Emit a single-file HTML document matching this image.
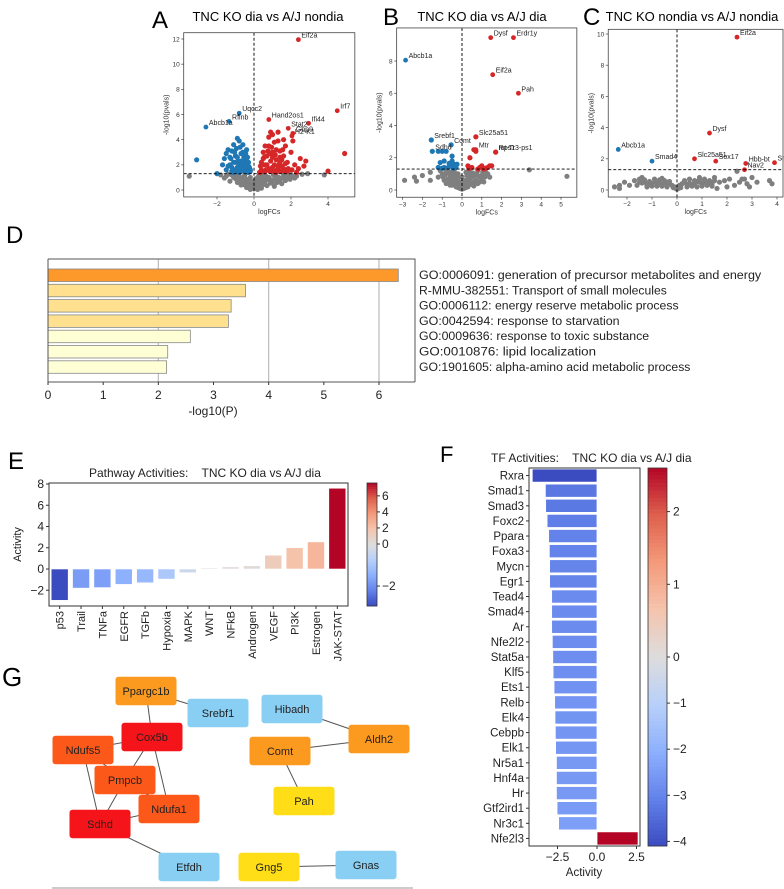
<!DOCTYPE html>
<html><head><meta charset="utf-8"><style>
html,body{margin:0;padding:0;background:#fff;}
svg{display:block;font-family:"Liberation Sans",sans-serif;}
</style></head><body>
<svg id="fig" width="784" height="889" viewBox="0 0 784 889" xmlns="http://www.w3.org/2000/svg">
<rect x="0" y="0" width="784" height="889" fill="#fff"/>
</svg>
<script>
// ---------- Panel A data ----------
const aLabX=[2.4,4.5,-2.6,-1.35,-0.8,0.8,1.85,2.95,2.1,2.05];
const aLabY=[11.95,6.3,5.0,5.45,6.1,5.6,4.9,5.3,4.5,4.3];
const aLabN=["Eif2a","Irf7","Abcb1a","Rflnb","Uqcc2","Hand2os1","Stat2","Ifi44","Gbp9","H2-K1"];
const aLabC=["r","r","b","b","b","r","r","r","r","r"];
const aGrayX=[-1.8,-1.5,-1.2,-1.0,-0.8,-0.6,-0.5,-0.3,-0.2,0,0,-0.1,0.1,0.2,0.3,0.5,0.6,0.8,1.0,1.2,1.4,1.6,1.8,2.0,2.3,2.6,-0.7,0.7,-0.4,0.4,1.1,-1.3,1.5,-3.5,3.8,2.9,-0.9,0.9,-0.2,0.2,1.3,-1.1,0.0,0.5,-0.5,
 -1.6,-1.4,-1.1,-0.9,-0.7,-0.45,-0.25,-0.05,0.15,0.35,0.55,0.75,0.95,1.15,1.35,1.55,1.75,1.95,2.15,-0.6,-0.35,-0.15,0.1,0.3,0.6,0.85,1.05,1.25,-0.8,-0.5,0.45,0.65,1.7,2.2,-1.0,0.25];
const aGrayY=[1.2,1.1,1.2,0.9,1.1,0.8,1.2,0.6,1.0,0.1,0.4,0.3,0.2,0.5,0.9,1.2,0.7,1.0,0.6,1.1,0.8,1.2,1.0,1.2,1.1,1.25,0.4,0.35,0.2,0.15,0.3,0.7,0.5,1.1,1.2,1.3,0.6,0.55,0.05,0.05,0.9,1.0,0.7,0.9,0.6,
 0.95,1.25,1.05,1.2,0.75,0.9,0.85,0.55,0.75,0.65,0.45,0.85,0.8,0.9,1.0,0.95,1.15,0.85,1.05,1.0,0.45,0.35,0.9,0.4,1.0,0.75,1.2,0.6,0.9,0.4,1.05,1.1,0.75,0.95,1.25,1.1];
const aBlueX=[-1.6,-1.4,-1.3,-1.1,-1.0,-0.9,-0.8,-0.7,-0.6,-0.5,-0.4,-0.3,-0.2,-1.2,-0.8,-1.5,-0.6,-0.9,-0.4,-1.7,-0.3,-0.7,-3.1,-2.0,-1.0,-0.5,
 -1.5,-1.3,-1.2,-1.1,-1.0,-0.9,-0.8,-0.7,-0.6,-0.5,-0.4,-0.3,-0.25,-1.4,-1.2,-0.95,-0.75,-0.55,-0.45,-0.35,-0.65,-0.85,-1.05,-1.25,-0.2,-0.5,-0.7,-0.9,-1.1,-0.4,-0.6,-0.8];
const aBlueY=[2.5,3.2,2.0,3.6,2.7,1.8,3.9,2.3,3.0,1.6,2.5,1.9,1.5,1.5,1.4,1.6,3.6,4.1,3.2,2.0,1.4,1.7,2.4,1.3,2.2,2.1,
 2.9,2.6,3.1,2.2,1.6,2.6,2.0,2.9,1.9,2.4,1.7,2.2,1.8,1.9,1.8,3.3,3.4,2.6,2.9,2.6,2.2,2.3,3.0,2.5,1.6,1.5,1.5,1.5,1.4,1.45,1.6,1.7];
const aRedX=[0.4,0.5,0.6,0.7,0.8,0.9,1.0,1.1,1.2,1.3,1.4,1.5,1.6,1.7,1.8,1.9,2.0,2.1,2.2,2.4,2.5,2.7,0.3,0.6,1.0,1.2,2.8,2.3,0.9,1.6,4.9,4.0,0.5,1.4,
 0.4,0.5,0.6,0.7,0.8,0.9,1.0,1.1,1.2,1.3,1.4,1.5,1.6,1.7,1.8,0.45,0.65,0.85,1.05,1.25,1.45,1.65,1.85,2.05,0.35,0.55,0.75,0.95,1.15,1.35,1.55,0.8,1.0,1.3];
const aRedY=[1.6,2.5,3.5,2.0,4.2,2.9,1.8,3.8,2.4,4.6,3.1,1.9,2.7,3.5,2.2,1.6,3.0,3.9,2.0,1.7,2.5,1.9,1.4,1.5,4.4,1.4,2.3,1.4,4.6,4.0,2.9,1.5,2.0,2.2,
 2.2,3.0,2.0,2.7,1.7,2.3,2.6,2.0,3.2,1.8,2.6,2.4,1.7,2.1,1.5,1.5,1.6,1.5,1.5,1.6,1.5,1.5,1.7,1.6,1.9,2.6,3.1,3.4,2.8,2.0,3.2,3.5,3.0,3.9];
// ---------- Panel B data ----------
const bLabX=[1.45,2.6,-2.85,1.55,2.85,0.7,1.7,-1.55,-0.55,-1.5,0.7,1.7];
const bLabY=[9.45,9.45,8.05,7.15,6.0,3.3,2.35,3.1,2.8,2.4,2.5,2.35];
const bLabN=["Dysf","Erdr1y","Abcb1a","Eif2a","Pah","Slc25a51","Rps13-ps1","Srebf1","Comt","Sdhd","Mtr","mt-Tr"];
const bLabC=["r","r","b","r","r","r","r","b","b","b","r","r"];
const bGrayX=[-1.0,-0.8,-0.6,-0.4,-0.2,0,0.2,0.4,0.6,0.8,1.0,1.2,-0.9,-0.7,-0.5,-0.3,-0.1,0.1,0.3,0.5,0.7,0.9,1.1,-0.6,-0.3,0,0.3,0.6,-0.4,0.4,-0.2,0.2,0,-2.9,-2.4,-2.3,-2.0,-1.6,-1.6,3.4,5.3,-1.2,1.4,
 -1.1,-0.95,-0.85,-0.75,-0.65,-0.55,-0.45,-0.35,-0.25,-0.15,0.15,0.25,0.35,0.45,0.55,0.65,0.75,0.85,0.95,1.05,1.15,1.3,-0.8,-0.6,-0.4,-0.2,0.2,0.4,0.6,0.8,-0.5,-0.3,0.3,0.5,-0.1,0.1];
const bGrayY=[1.0,1.2,1.1,1.2,1.0,0.5,1.1,1.2,1.0,1.2,0.9,1.1,0.6,0.7,0.6,0.8,0.3,0.3,0.7,0.8,0.6,0.5,0.5,0.3,0.2,0.05,0.2,0.25,0.45,0.45,0.15,0.15,0.8,0.6,0.8,0.55,0.9,1.1,0.6,1.25,0.85,0.8,0.8,
 1.2,0.8,0.95,1.05,0.45,0.85,0.95,1.05,0.6,0.5,0.55,0.9,1.05,0.95,1.05,0.9,1.0,0.85,0.7,1.1,0.8,1.0,0.4,0.95,0.7,0.75,0.6,0.7,0.5,0.4,0.3,0.35,0.4,0.35,0.1,0.1];
const bBlueX=[-1.5,-1.2,-1.0,-0.8,-0.55,-0.5,-0.4,-0.6,-0.9,-1.1,-1.2,-0.7,-0.3,-0.5,-1.55,-0.35,-0.9,-0.45,-0.65,-0.25,-1.0];
const bBlueY=[2.4,2.4,2.4,2.4,2.8,2.1,1.6,1.5,1.8,1.7,1.4,1.4,1.4,1.8,3.1,1.5,1.4,1.35,1.65,1.6,1.35];
const bRedX=[0.7,0.6,0.7,0.4,1.7,0.3,0.5,0.9,1.0,1.3,1.4,1.5,1.2,0.8,0.35,1.1];
const bRedY=[3.3,2.5,2.4,2.0,2.35,1.5,1.4,1.4,1.5,1.4,1.5,1.5,1.35,1.3,1.35,1.3];
// ---------- Panel C data ----------
const cLabX=[2.4,1.3,-2.35,-1.0,0.7,1.55,2.75,3.9,2.7];
const cLabY=[9.8,3.65,2.6,1.85,2.0,1.85,1.7,1.75,1.3];
const cLabN=["Eif2a","Dysf","Abcb1a","Smad4","Slc25a51","Sox17","Hbb-bt","Snca","Nav2"];
const cLabC=["r","r","b","b","r","r","r","r","r"];
const cGrayX=[-2.5,-2.3,-2.1,-1.9,-1.7,-1.5,-1.3,-1.1,-0.9,-0.7,-0.5,-0.3,-0.1,0.1,0.3,0.5,0.7,0.9,1.1,1.3,1.5,1.7,1.9,2.1,2.3,2.5,-1.6,-1.2,-0.8,-0.4,0,0.4,0.8,1.2,-1.4,-1.0,-0.6,-0.2,0.2,0.6,1.0,1.4,2.0,2.6,2.8,3.0,3.2,3.7,3.8,-2.3,-1.4,-0.6,0.9,1.6,2.4,2.7,2.9,-0.05,0.05,
 -1.5,-1.3,-1.1,-0.9,-0.7,-0.5,-0.3,0.3,0.5,0.7,0.9,1.1,1.3,1.5,-1.2,-0.8,-0.4,0.4,0.8,1.2,-1.0,-0.6,0.6,1.0,1.4,-0.15,0.15];
const cGrayY=[0.2,0.3,0.5,0.3,0.6,0.7,0.5,0.4,0.7,0.5,0.6,0.4,0.2,0.3,0.5,0.7,0.6,0.5,0.7,0.6,0.8,0.5,0.6,0.7,0.3,0.5,0.3,0.2,0.25,0.2,0.05,0.2,0.2,0.3,0.45,0.4,0.35,0.3,0.4,0.35,0.4,0.4,0.2,0.7,0.4,0.8,0.5,0.6,0.4,0.1,0.8,0.75,0.8,0.1,1.2,0.7,0.2,0.1,0.1,
 0.5,0.65,0.55,0.5,0.65,0.45,0.55,0.6,0.45,0.4,0.65,0.55,0.45,0.6,0.3,0.45,0.5,0.35,0.55,0.45,0.25,0.25,0.25,0.25,0.25,0.15,0.15];
const cBlueX=[];const cBlueY=[];
const cRedX=[];const cRedY=[];
// ---------- Panel D data ----------
const dTerms=["GO:0006091: generation of precursor metabolites and energy","R-MMU-382551: Transport of small molecules","GO:0006112: energy reserve metabolic process","GO:0042594: response to starvation","GO:0009636: response to toxic substance","GO:0010876: lipid localization","GO:1901605: alpha-amino acid metabolic process"];
const dVals=[6.35,3.58,3.32,3.27,2.58,2.17,2.15];
const dTicks=[0,1,2,3,4,5,6];
// ---------- Panel E data ----------
const eCats=["p53","Trail","TNFa","EGFR","TGFb","Hypoxia","MAPK","WNT","NFkB","Androgen","VEGF","PI3K","Estrogen","JAK-STAT"];
const eVals=[-2.95,-1.8,-1.75,-1.45,-1.3,-0.95,-0.35,0.1,0.2,0.3,1.3,2.0,2.55,7.6];
const eTicks=[-2,0,2,4,6,8];
const eCbTicks=[-2,0,2,4,6];
// ---------- Panel F data ----------
const fCats=["Rxra","Smad1","Smad3","Foxc2","Ppara","Foxa3","Mycn","Egr1","Tead4","Smad4","Ar","Nfe2l2","Stat5a","Klf5","Ets1","Relb","Elk4","Cebpb","Elk1","Nr5a1","Hnf4a","Hr","Gtf2ird1","Nr3c1","Nfe2l3"];
const fVals=[-4.1,-3.27,-3.25,-3.16,-3.06,-3.02,-3.0,-3.0,-2.87,-2.87,-2.87,-2.83,-2.8,-2.78,-2.72,-2.68,-2.66,-2.64,-2.62,-2.57,-2.57,-2.57,-2.53,-2.43,2.6];
const fTicks=[-2.5,0,2.5];
const fCbTicks=[-4,-3,-2,-1,0,1,2];
// ---------- Panel G data ----------
const gNodes=["Ppargc1b","Srebf1","Hibadh","Aldh2","Cox5b","Ndufs5","Comt","Pmpcb","Ndufa1","Pah","Sdhd","Etfdh","Gng5","Gnas"];
const gNodeX=[146,218,292,379,152,83,280,125,169,304,100,189,269,366];
const gNodeY=[691,713,709,739,737,750,751,780,809,801,824,867,867,865];
const gNodeCol=["#fc9a1f","#89cff3","#89cff3","#fc9a1f","#f51419","#fb581a","#fc9a1f","#fb581a","#fb581a","#ffdd17","#f51419","#89cff3","#ffdd17","#89cff3"];
const gEdgeA=["Ppargc1b","Ppargc1b","Cox5b","Cox5b","Cox5b","Ndufs5","Ndufs5","Pmpcb","Pmpcb","Sdhd","Sdhd","Hibadh","Comt","Comt","Gng5"];
const gEdgeB=["Srebf1","Cox5b","Ndufs5","Pmpcb","Ndufa1","Sdhd","Ndufa1","Sdhd","Ndufa1","Ndufa1","Etfdh","Aldh2","Aldh2","Pah","Gnas"];

const NS="http://www.w3.org/2000/svg";
const svg=document.getElementById('fig');
function mk(tag,attrs,parent){const e=document.createElementNS(NS,tag);for(const k in attrs)e.setAttribute(k,attrs[k]);(parent||svg).appendChild(e);return e;}
function txt(s,attrs,parent){const e=mk('text',attrs,parent);e.textContent=s;return e;}
function lin(d0,d1,r0,r1){return v=>r0+(v-d0)*(r1-r0)/(d1-d0);}
const CW=[[59,76,192],[98,130,234],[141,176,254],[184,208,249],[221,221,221],[245,196,173],[244,154,123],[222,96,77],[180,4,38]];
function coolwarm(t){t=Math.max(0,Math.min(1,t));const p=t*8,i=Math.min(7,Math.floor(p)),f=p-i;const a=CW[i],b=CW[i+1];return 'rgb('+a.map((v,k)=>Math.round(v+(b[k]-v)*f)).join(',')+')';}
function twoSlope(v,vmin,vmax){return v<0?0.5*(1-v/vmin):0.5+0.5*v/vmax;}

// ---------- Volcano ----------
function volcano(p){
  const g=mk('g',{});
  
  
  const X=lin(p.xd[0],p.xd[1],p.px[0],p.px[1]);
  const Y=lin(p.yd[0],p.yd[1],p.py[0],p.py[1]);
  const L=X(p.xmin),R=X(p.xmax),T=Y(p.ymax),B=Y(p.ymin);
  const pl=txt(p.letter,{x:p.lx,y:p.ly,'font-size':24,fill:'#000'},g);
  
  const tt=txt(p.title,{x:p.tx,y:21,'font-size':13,'text-anchor':'middle',fill:'#000'},g);
  
  const dots=mk('g',{},g);
  
  const draw=(xs,ys,c)=>{for(let i=0;i<xs.length;i++){const d=mk('circle',{cx:X(xs[i]),cy:Y(ys[i]),r:2.6,fill:c},dots);}};
  draw(p.gx,p.gy,'#7f7f7f');draw(p.bx,p.by,'#1f77b4');draw(p.rx,p.ry,'#d62728');
  for(let i=0;i<p.ln.length;i++){
    const c=p.lc[i]==='r'?'#d62728':'#1f77b4';
    const d=mk('circle',{cx:X(p.lx2[i]),cy:Y(p.ly2[i]),r:2.4,fill:c},dots);
    
    const t=txt(p.ln[i],{x:X(p.lx2[i])+3,y:Y(p.ly2[i])-2,'font-size':7,fill:'#222'},g);
    
  }
  mk('line',{x1:X(0),x2:X(0),y1:T,y2:B,stroke:'#000','stroke-width':0.9,'stroke-dasharray':'3,2'},g);
  mk('line',{x1:L,x2:R,y1:Y(1.3),y2:Y(1.3),stroke:'#000','stroke-width':0.9,'stroke-dasharray':'3,2'},g);
  const fr=mk('rect',{x:L,y:T,width:R-L,height:B-T,fill:'none',stroke:'#444','stroke-width':0.8},g);
  
  p.xt.forEach(v=>{mk('line',{x1:X(v),x2:X(v),y1:B,y2:B+2.5,stroke:'#444','stroke-width':0.7},g);
    const t=txt(String(v).replace('-','\u2212'),{x:X(v),y:B+9,'font-size':6.5,'text-anchor':'middle',fill:'#333'},g);
    });
  p.yt.forEach(v=>{mk('line',{x1:L,x2:L-2.5,y1:Y(v),y2:Y(v),stroke:'#444','stroke-width':0.7},g);
    const t=txt(String(v),{x:L-4,y:Y(v)+2.3,'font-size':6.5,'text-anchor':'end',fill:'#333'},g);
    });
  const xl=txt('logFCs',{x:(L+R)/2,y:B+17,'font-size':7,'text-anchor':'middle',fill:'#333'},g);
  
  const yl=txt('-log10(pvals)',{x:0,y:0,'font-size':7,'text-anchor':'middle',fill:'#333',transform:`translate(${L-15},${(T+B)/2}) rotate(-90)`},g);
  
}
volcano({name:'volcano-a',letter:'A',lx:152,ly:28,title:'TNC KO dia vs A/J nondia',tx:268,
  xd:[0,2],px:[254,291],yd:[0,12],py:[190,39],xmin:-3.8,xmax:5.45,ymin:-0.55,ymax:12.5,
  xt:[-2,0,2,4],yt:[0,2,4,6,8,10,12],gx:aGrayX,gy:aGrayY,bx:aBlueX,by:aBlueY,rx:aRedX,ry:aRedY,
  lx2:aLabX,ly2:aLabY,ln:aLabN,lc:aLabC});
volcano({name:'volcano-b',letter:'B',lx:383,ly:25,title:'TNC KO dia vs A/J dia',tx:482,
  xd:[0,5],px:[462,561],yd:[0,8],py:[190,61],xmin:-3.3,xmax:5.8,ymin:-0.45,ymax:10.05,
  xt:[-3,-2,-1,0,1,2,3,4,5],yt:[0,2,4,6,8],gx:bGrayX,gy:bGrayY,bx:bBlueX,by:bBlueY,rx:bRedX,ry:bRedY,
  lx2:bLabX,ly2:bLabY,ln:bLabN,lc:bLabC});
volcano({name:'volcano-c',letter:'C',lx:583,ly:25,title:'TNC KO nondia vs A/J nondia',tx:692,
  xd:[0,4],px:[677,777],yd:[0,10],py:[190,34],xmin:-2.75,xmax:4.24,ymin:-0.45,ymax:10.3,
  xt:[-2,-1,0,1,2,3,4],yt:[0,2,4,6,8,10],gx:cGrayX,gy:cGrayY,bx:cBlueX,by:cBlueY,rx:cRedX,ry:cRedY,
  lx2:cLabX,ly2:cLabY,ln:cLabN,lc:cLabC});

// ---------- Panel D ----------
(function(){
  const g=mk('g',{});
  const l=txt('D',{x:6,y:243,'font-size':24,fill:'#000'},g);
  const X=lin(0,6,48,379);const L=48,R=415,T=259,B=382;
  dTicks.forEach(v=>{if(v>0&&v%2===0)mk('line',{x1:X(v),x2:X(v),y1:T,y2:B,stroke:'#bbb','stroke-width':1.2},g);});
  dVals.forEach((v,i)=>{const y=269+i*15.3;
    const col=i===0?'#fd992b':(i<4?'#fee08e':'#ffffd5');
    const r=mk('rect',{x:L,y:y,width:X(v)-L,height:12.5,fill:col,stroke:'#888','stroke-width':0.8},g);
    
    const t=txt(dTerms[i],{x:419,y:y+10,'font-size':11.5,fill:'#222',textLength:dTerms[i].length*5.9,lengthAdjust:'spacingAndGlyphs'},g);
    });
  mk('path',{d:`M${L} ${T}H${R}V${B}M${L} ${T}V${B}H${R}`,fill:'none',stroke:'#555','stroke-width':1},g);
  dTicks.forEach(v=>{mk('line',{x1:X(v),x2:X(v),y1:B,y2:B+3,stroke:'#333'},g);
    const t=txt(String(v),{x:X(v),y:399,'font-size':12,'text-anchor':'middle',fill:'#222'},g);
    });
  const xl=txt('-log10(P)',{x:213,y:415,'font-size':12,'text-anchor':'middle',fill:'#222'},g);
  
})();

// ---------- Panel E ----------
(function(){
  const g=mk('g',{});
  const l=txt('E',{x:8,y:469,'font-size':24,fill:'#000'},g);
  const tt=txt('Pathway Activities:\u00a0\u00a0\u00a0 TNC KO dia vs A/J dia',{x:89,y:477,'font-size':12,fill:'#222'},g);
  
  const L=49,R=348,T=483,B=606;const Y=lin(0,8,569,484);
  const vmin=Math.min(...eVals),vmax=Math.max(...eVals);
  const step=(R-L)/eCats.length;
  eVals.forEach((v,i)=>{const cx=L+step*(i+0.5);
    const r=mk('rect',{x:cx-8.5,y:Math.min(Y(v),Y(0)),width:17,height:Math.abs(Y(v)-Y(0)),fill:coolwarm(twoSlope(v,vmin,vmax)),stroke:'#fff','stroke-width':0.6},g);
    
    mk('line',{x1:cx,x2:cx,y1:B,y2:B+3,stroke:'#333'},g);
    const t=txt(eCats[i],{x:0,y:0,'font-size':11,'text-anchor':'end',fill:'#222',transform:`translate(${cx+4},${B+5}) rotate(-90)`},g);
    });
  mk('rect',{x:L,y:T,width:R-L,height:B-T,fill:'none',stroke:'#333','stroke-width':1},g);
  eTicks.forEach(v=>{mk('line',{x1:L,x2:L-3,y1:Y(v),y2:Y(v),stroke:'#333'},g);
    const t=txt(String(v).replace('-','\u2212'),{x:L-5,y:Y(v)+4,'font-size':12,'text-anchor':'end',fill:'#222'},g);
    });
  const yl=txt('Activity',{x:0,y:0,'font-size':11,'text-anchor':'middle',fill:'#222',transform:`translate(21,${(T+B)/2}) rotate(-90)`},g);
  
  const cb=mk('g',{},g);
  const CX=367,CW2=10;const CY=v=>v>=0?T+(vmax-v)/vmax*(544-T):544+(v/vmin)*(B-544);
  for(let k=0;k<60;k++){const y0=T+(B-T)*k/60,y1=T+(B-T)*(k+1)/60;const t=1-(k+0.5)/60;
    mk('rect',{x:CX,y:y0,width:CW2,height:y1-y0+0.3,fill:coolwarm(t)},cb);}
  mk('rect',{x:CX,y:T,width:CW2,height:B-T,fill:'none',stroke:'#333','stroke-width':0.8},cb);
  eCbTicks.forEach(v=>{const y=CY(v);mk('line',{x1:CX+CW2,x2:CX+CW2+3,y1:y,y2:y,stroke:'#333'},cb);
    const t=txt(String(v).replace('-','\u2212'),{x:CX+CW2+5,y:y+4,'font-size':12,fill:'#222'},cb);
    });
})();

// ---------- Panel F ----------
(function(){
  const g=mk('g',{});
  const l=txt('F',{x:440,y:462,'font-size':22,fill:'#000'},g);
  const tt=txt('TF Activities:\u00a0\u00a0\u00a0 TNC KO dia vs A/J dia',{x:491,y:462,'font-size':12,fill:'#222'},g);
  
  const L=529,R=640,T=468,B=846;const X=lin(0,2.5,597,636.5);
  const vmin=Math.min(...fVals),vmax=Math.max(...fVals);
  const step=(B-T)/fCats.length;
  fVals.forEach((v,i)=>{const cy=T+step*(i+0.5);
    const r=mk('rect',{x:Math.min(X(v),X(0)),y:cy-6.6,width:Math.abs(X(v)-X(0)),height:13.2,fill:coolwarm(twoSlope(v,vmin,vmax)),stroke:'#fff','stroke-width':0.8},g);
    
    mk('line',{x1:L,x2:L-3,y1:cy,y2:cy,stroke:'#333'},g);
    const t=txt(fCats[i],{x:L-5,y:cy+4,'font-size':11.5,'text-anchor':'end',fill:'#222'},g);
    });
  mk('rect',{x:L,y:T,width:R-L,height:B-T,fill:'none',stroke:'#333','stroke-width':1},g);
  fTicks.forEach(v=>{mk('line',{x1:X(v),x2:X(v),y1:B,y2:B+3,stroke:'#333'},g);
    const t=txt(v.toFixed(1).replace('-','\u2212'),{x:X(v),y:861,'font-size':12,'text-anchor':'middle',fill:'#222'},g);
    });
  const xl=txt('Activity',{x:584,y:876,'font-size':11.5,'text-anchor':'middle',fill:'#222'},g);
  
  const cb=mk('g',{},g);
  const CX=648,CW2=19;
  const y0=v=>{const t=twoSlope(v,vmin,vmax);return B-(B-T)*t;};
  for(let k=0;k<100;k++){const a=T+(B-T)*k/100,b=T+(B-T)*(k+1)/100;const t=1-(k+0.5)/100;
    mk('rect',{x:CX,y:a,width:CW2,height:b-a+0.3,fill:coolwarm(t)},cb);}
  mk('rect',{x:CX,y:T,width:CW2,height:B-T,fill:'none',stroke:'#333','stroke-width':0.8},cb);
  fCbTicks.forEach(v=>{const y=y0(v);if(y<T||y>B)return;mk('line',{x1:CX+CW2,x2:CX+CW2+3,y1:y,y2:y,stroke:'#333'},cb);
    const t=txt(String(v).replace('-','\u2212'),{x:CX+CW2+6,y:y+4,'font-size':12,fill:'#222'},cb);
    });
})();

// ---------- Panel G ----------
(function(){
  const g=mk('g',{});
  const l=txt('G',{x:2,y:686,'font-size':26,fill:'#000'},g);
  const idx=n=>gNodes.indexOf(n);
  gEdgeA.forEach((a,i)=>{const p=idx(a),q=idx(gEdgeB[i]);
    const e=mk('line',{x1:gNodeX[p],y1:gNodeY[p],x2:gNodeX[q],y2:gNodeY[q],stroke:'#555','stroke-width':1},g);
    });
  gNodes.forEach((n,i)=>{const ng=mk('g',{},g);
    
    mk('rect',{x:gNodeX[i]-30.5,y:gNodeY[i]-14.2,width:61,height:28.4,rx:3,fill:gNodeCol[i]},ng);
    txt(n,{x:gNodeX[i],y:gNodeY[i]+4,'font-size':11,'text-anchor':'middle',fill:'#222'},ng);});
  mk('line',{x1:52,x2:413,y1:888,y2:888,stroke:'#999','stroke-width':1},g);
})();
</script>
</body></html>
